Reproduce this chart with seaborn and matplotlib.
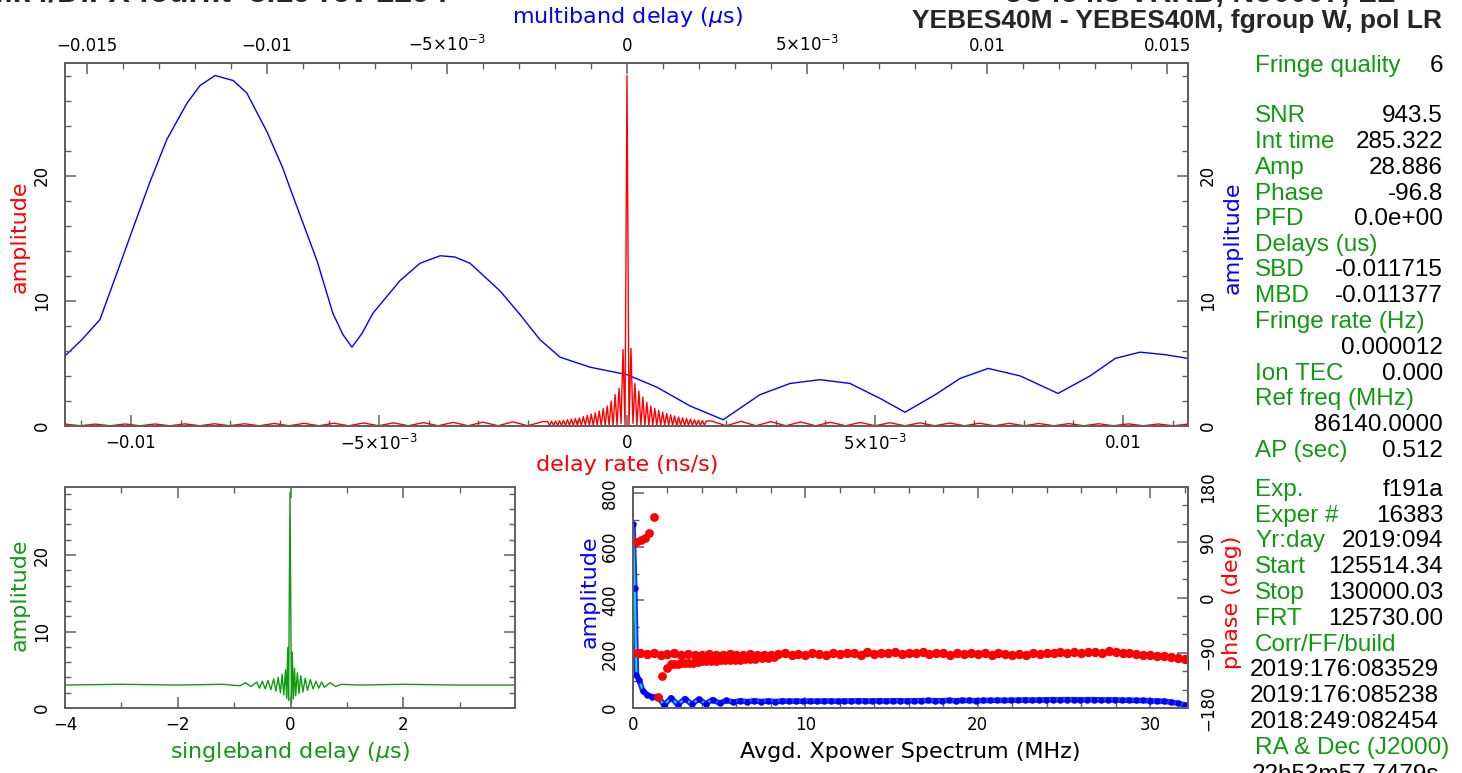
import numpy as np
import matplotlib
matplotlib.use('Agg')
import matplotlib.pyplot as plt
from matplotlib.ticker import MultipleLocator, FixedLocator, FixedFormatter
import seaborn as sns

# ---- values ----
# delay rate spectrum (red), x in 1e-3 ns/s
# outer wings (sampled between the edge and +-1.7) and the dense central part
rate_left_amp = [0.15, 0.02, 0.15, 0.02, 0.16, 0.02, 0.16, 0.02, 0.17, 0.02, 0.18,
                 0.02, 0.18, 0.02, 0.20, 0.02, 0.21, 0.02, 0.22, 0.02, 0.24, 0.02,
                 0.25, 0.02, 0.27, 0.02, 0.29, 0.02, 0.31, 0.02, 0.33, 0.02, 0.35]
rate_right_amp = [0.40, 0.02, 0.37, 0.02, 0.35, 0.02, 0.32, 0.02, 0.30, 0.02, 0.28,
                  0.02, 0.26, 0.02, 0.25, 0.02, 0.23, 0.02, 0.22, 0.02, 0.21, 0.02,
                  0.20, 0.02, 0.19, 0.02, 0.18, 0.02, 0.17, 0.02, 0.16, 0.02, 0.15]
rate_center_amp = [0.35, 0.05, 0.38, 0.05, 0.40, 0.05, 0.42, 0.05, 0.45, 0.05,
                   0.50, 0.05, 0.55, 0.05, 0.60, 0.05, 0.65, 0.05, 0.75, 0.05,
                   0.85, 0.05, 0.95, 0.05, 1.05, 0.05, 1.20, 0.05, 1.40, 0.05,
                   1.60, 0.05, 2.00, 0.05, 2.50, 0.05, 3.00, 0.20, 6.10, 0.10,
                   28.0,
                   0.10, 6.20, 0.20, 3.40, 0.05, 2.80, 0.05, 2.30, 0.05, 1.90,
                   0.05, 1.60, 0.05, 1.40, 0.05, 1.25, 0.05, 1.10, 0.05, 1.00,
                   0.05, 0.90, 0.05, 0.80, 0.05, 0.72, 0.05, 0.66, 0.05, 0.60,
                   0.05, 0.55, 0.05, 0.50, 0.05, 0.47, 0.05, 0.44, 0.05, 0.40]

# multiband delay amplitude (blue), x in 1e-3 us
mbd_x = [-15.61, -15.14, -14.64, -14.17, -13.72, -13.25, -12.78, -12.22, -11.86, -11.44, -10.94,
         -10.56, -10.00, -9.56, -9.36, -8.61, -8.17, -7.89, -7.64, -7.36, -7.06,
         -6.31, -5.75, -5.19, -4.78, -4.36, -3.53, -2.97, -2.42, -1.86, -1.03, 0.00,
         0.83, 1.75, 2.67, 3.69, 4.53, 5.36, 6.19, 7.03, 7.72, 8.56,
         9.25, 10.03, 10.92, 11.97, 12.86, 13.56, 14.25, 14.94, 15.58]
mbd_amp = [5.6, 6.9, 8.5, 12.2, 15.8, 19.5, 22.9, 25.8, 27.2, 28.0, 27.6,
           26.6, 23.5, 20.6, 19.0, 13.2, 9.0, 7.3, 6.3, 7.4, 9.0,
           11.6, 13.0, 13.6, 13.5, 13.0, 10.8, 8.9, 6.9, 5.5, 4.7, 4.1,
           3.1, 1.6, 0.5, 2.5, 3.4, 3.7, 3.4, 2.2, 1.1, 2.5,
           3.8, 4.6, 4.0, 2.6, 4.0, 5.4, 5.9, 5.7, 5.4]

# singleband delay amplitude (green), x in us
sbd_x = [-4.0, -3.0, -2.0, -1.2, -0.9, -0.8, -0.7, -0.6, -0.55, -0.5,
         -0.45, -0.4, -0.35, -0.3, -0.26, -0.22, -0.18, -0.15, -0.12, -0.09,
         -0.07, -0.05, -0.035, -0.01, 0.015, 0.03, 0.05, 0.07, 0.09, 0.12,
         0.15, 0.18, 0.22, 0.26, 0.3, 0.35, 0.4, 0.45, 0.5, 0.55,
         0.6, 0.7, 0.8, 0.9, 1.2, 2.0, 3.0, 3.98]
sbd_amp = [3.0, 3.1, 3.0, 3.1, 2.9, 3.3, 2.8, 3.4, 2.6, 3.5,
           2.5, 3.6, 2.4, 3.8, 2.2, 4.0, 2.0, 4.4, 1.7, 5.0,
           1.3, 7.9, 1.0, 28.2, 0.7, 7.3, 1.2, 5.2, 1.6, 4.6,
           1.9, 4.2, 2.1, 3.9, 2.3, 3.7, 2.5, 3.5, 2.6, 3.4,
           2.7, 3.3, 2.8, 3.1, 3.0, 3.1, 3.0, 3.0]

# averaged cross-power spectrum: first few channels, then the flat band
xp_lo_freq = [0.0, 0.1, 0.2, 0.35, 0.57, 0.83, 1.1, 1.5]
xp_lo_amp = [685, 445, 124, 104, 64, 49, 42, 40]
xp_amp = [10, 38, 12, 35, 14, 33, 16, 31, 18,
          28, 22, 27, 23, 27, 24, 26, 24, 26, 25, 26, 25,
          26, 25, 26, 26, 25, 26, 26, 27, 26, 26, 27, 26, 27, 27, 26, 27, 27, 28, 27, 27, 28, 27, 28, 28, 27,
          28, 28, 29, 28, 29, 29, 30, 29, 30, 30, 31, 30, 31, 31, 30, 31, 31, 30, 30, 30,
          29, 29, 28, 28, 27, 26, 25, 22, 18, 12]
xp_phase = [-90, -91, -92, -91, -93, -92, -91, -93, -92, -94,
            -93, -92, -94, -93, -92, -94, -93, -92, -93, -94,
            -93, -92, -91, -93, -92, -94, -91, -92, -93, -91,
            -92, -90, -91, -93, -89, -92, -90, -91, -89, -92,
            -90, -91, -89, -92, -90, -91, -93, -90, -92, -91,
            -92, -90, -93, -91, -92, -94, -92, -93, -91, -92,
            -90, -91, -89, -90, -88, -90, -89, -88, -90, -87,
            -89, -91, -90, -92, -93, -94, -95, -96, -97, -98, -100]
xp_ph2_freq = [0.17, 0.45, 0.69, 0.92, 1.19, 1.47, 1.7, 1.95, 2.18, 2.4, 2.6, 2.8,
               3.0, 3.25, 3.5, 3.75, 4.0, 4.25, 4.5, 4.8, 5.1, 5.35, 5.6, 5.9, 6.2,
               6.5, 6.8, 7.1, 7.5, 7.85, 8.2]
xp_ph2 = [90, 93, 97, 105, 131, -161.6, -128.6, -115, -108.5, -108, -108, -107.5,
          -107, -106.5, -106, -105, -104, -104, -104, -103, -102, -102, -101, -101, -101,
          -100.5, -100, -99.5, -99, -98.5, -97.7]

info_top = [('Fringe quality', '6', 66), ('SNR', '943.5', 116), ('Int time', '285.322', 142),
            ('Amp', '28.886', 168), ('Phase', '-96.8', 194), ('PFD', '0.0e+00', 219),
            ('Delays (us)', '', 245), ('SBD', '-0.011715', 270), ('MBD', '-0.011377', 296),
            ('Fringe rate (Hz)', '', 322), ('', '0.000012', 348), ('Ion TEC', '0.000', 374),
            ('Ref freq (MHz)', '', 399), ('', '86140.0000', 425), ('AP (sec)', '0.512', 451),
            ('Exp.', 'f191a', 490), ('Exper #', '16383', 516), ('Yr:day', '2019:094', 541),
            ('Start', '125514.34', 567), ('Stop', '130000.03', 593), ('FRT', '125730.00', 619),
            ('Corr/FF/build', '', 645), ('RA & Dec (J2000)', '', 748)]
build_dates = ['2019:176:083529', '2019:176:085238', '2018:249:082454']

# ---- figure ----
sns.set_theme(style='ticks')
plt.rcParams['font.family'] = ['DejaVu Sans']
plt.rcParams['axes.unicode_minus'] = True
plt.rcParams['mathtext.default'] = 'regular'

W, H = 1462, 773
fig = plt.figure(figsize=(W / 100, H / 100), dpi=100)
RED, BLUE, GREEN, CYAN = '#ff0000', '#0000ff', '#109a10', '#00e0f0'
FRAME = '#606060'
TICK_FS = 12
LAB_FS = 16
M5 = '\u22125\u00d710$^{\u22123}$'
P5 = '5\u00d710$^{\u22123}$'


def rect(x0, y0, x1, y1):
    return [x0 / W, 1 - y1 / H, (x1 - x0) / W, (y1 - y0) / H]


def style(ax):
    for s in ax.spines.values():
        s.set_color(FRAME)
        s.set_linewidth(1.4)
    ax.tick_params(which='both', direction='in', color=FRAME, labelsize=TICK_FS,
                   labelcolor='black', top=True, right=True)
    ax.tick_params(which='major', length=8, width=1.1)
    ax.tick_params(which='minor', length=4, width=1.0)
    ax.tick_params(axis='x', pad=6)
    ax.tick_params(axis='y', labelrotation=90, pad=10)
    for lab in ax.get_yticklabels():
        lab.set_va('center')


def label(xpx, ypx, text, color, rot=0):
    fig.text(xpx / W, 1 - ypx / H, text, color=color, fontsize=LAB_FS,
             ha='center', va='center', rotation=rot)


# top panel: delay rate (red) with multiband delay (blue) overlaid
ax_b = fig.add_axes(rect(65, 63, 1188, 426))
ax_r = fig.add_axes(rect(65, 63, 1188, 426))
ax_b.set_zorder(1)
ax_r.set_zorder(2)
ax_r.patch.set_visible(False)

rate_x = np.concatenate([np.linspace(-11.32, -1.70, len(rate_left_amp)),
                         np.linspace(-1.60, 1.60, len(rate_center_amp)),
                         np.linspace(1.70, 11.31, len(rate_right_amp))]) * 1e-3
rate_amp = rate_left_amp + rate_center_amp + rate_right_amp

sns.lineplot(x=np.array(mbd_x) * 1e-3, y=mbd_amp, ax=ax_b, color=BLUE, linewidth=1.0,
             estimator=None, sort=False)
sns.lineplot(x=rate_x, y=rate_amp, ax=ax_r, color=RED, linewidth=1.0,
             estimator=None, sort=False)

ax_r.set_xlim(-0.01133, 0.01131)
ax_r.set_ylim(0, 29.0)
ax_b.set_xlim(-0.01561, 0.01558)
ax_b.set_ylim(0, 29.0)

ax_r.xaxis.set_major_locator(FixedLocator([-0.01, -0.005, 0, 0.005, 0.01]))
ax_r.xaxis.set_major_formatter(FixedFormatter(['\u22120.01', M5, '0', P5, '0.01']))
ax_r.xaxis.set_minor_locator(MultipleLocator(0.001))
ax_r.yaxis.set_major_locator(MultipleLocator(10))
ax_r.yaxis.set_minor_locator(MultipleLocator(2))
style(ax_r)
ax_r.tick_params(top=False, right=False, which='both')

ax_b.xaxis.tick_top()
ax_b.yaxis.tick_right()
ax_b.xaxis.set_major_locator(FixedLocator([-0.015, -0.01, -0.005, 0, 0.005, 0.01, 0.015]))
ax_b.xaxis.set_major_formatter(FixedFormatter(['\u22120.015', '\u22120.01', M5, '0',
                                               P5, '0.01', '0.015']))
ax_b.xaxis.set_minor_locator(MultipleLocator(0.001))
ax_b.yaxis.set_major_locator(MultipleLocator(10))
ax_b.yaxis.set_minor_locator(MultipleLocator(2))
style(ax_b)
ax_b.tick_params(bottom=False, left=False, top=True, right=True, which='both',
                 labeltop=True, labelright=True, labelbottom=False, labelleft=False)
ax_b.tick_params(axis='y', pad=8)

label(627, 17, 'multiband delay ($\\mathit{\\mu}$s)', BLUE)
label(627, 465, 'delay rate (ns/s)', RED)
label(20, 237, 'amplitude', RED, 90)
label(1233, 238, 'amplitude', BLUE, 90)

# bottom left: singleband delay
ax_s = fig.add_axes(rect(65, 487, 515, 708))
sns.lineplot(x=sbd_x, y=sbd_amp, ax=ax_s, color=GREEN, linewidth=1.0,
             estimator=None, sort=False)
ax_s.set_xlim(-4, 3.98)
ax_s.set_ylim(0, 28.9)
ax_s.xaxis.set_major_locator(FixedLocator([-4, -2, 0, 2]))
ax_s.xaxis.set_minor_locator(MultipleLocator(1))
ax_s.yaxis.set_major_locator(MultipleLocator(10))
ax_s.yaxis.set_minor_locator(MultipleLocator(2))
style(ax_s)
label(290, 752, 'singleband delay ($\\mathit{\\mu}$s)', GREEN)
label(20, 595, 'amplitude', GREEN, 90)

# bottom right: averaged cross-power spectrum
ax_x = fig.add_axes(rect(633, 487, 1188, 708))
ax_p = ax_x.twinx()
xp_freq = np.linspace(1.8, 32.0, len(xp_amp))
amp_f = list(xp_lo_freq) + list(xp_freq)
amp_v = list(xp_lo_amp) + list(xp_amp)
sns.lineplot(x=amp_f, y=amp_v, ax=ax_x, color=BLUE, linewidth=4, alpha=0.85,
             estimator=None, sort=False)
sns.lineplot(x=amp_f, y=amp_v, ax=ax_x, color=CYAN, linewidth=1.4, estimator=None, sort=False)
sns.scatterplot(x=amp_f, y=amp_v, ax=ax_x, color=BLUE, s=22, linewidth=0, zorder=3)
ph_freq = np.linspace(0.0, 32.0, len(xp_phase))
sns.scatterplot(x=ph_freq, y=xp_phase, ax=ax_p, color=RED, s=45, linewidth=0)
sns.scatterplot(x=xp_ph2_freq, y=xp_ph2, ax=ax_p, color=RED, s=40, linewidth=0)
ax_x.set_xlim(0, 32.2)
ax_x.set_ylim(0, 822)
ax_p.set_ylim(-180, 180)
ax_x.xaxis.set_major_locator(MultipleLocator(10))
ax_x.xaxis.set_minor_locator(MultipleLocator(2))
ax_x.yaxis.set_major_locator(MultipleLocator(200))
ax_x.yaxis.set_minor_locator(MultipleLocator(100))
ax_p.yaxis.set_major_locator(MultipleLocator(90))
ax_p.yaxis.set_minor_locator(MultipleLocator(30))
style(ax_x)
ax_x.tick_params(right=False, which='both')
style(ax_p)
ax_p.tick_params(left=False, top=False, bottom=False, which='both', labelright=True)
ax_p.tick_params(axis='y', pad=8)
ax_p.set_ylabel('')
ax_x.set_ylabel('')
label(910, 752, 'Avgd. Xpower Spectrum (MHz)', 'black')
label(590, 592, 'amplitude', BLUE, 90)
label(1232, 602, 'phase (deg)', RED, 90)

# headers (top line partly cut by the page edge)
hfont = dict(family=['Liberation Sans', 'DejaVu Sans'], fontweight='bold', fontsize=19)
fig.text(-14 / W, 1 - (-7) / H, 'Mk4/DiFX fourfit  3.19 rev 2294', ha='left', va='center',
         family=['Liberation Sans', 'DejaVu Sans'], fontweight='bold', fontsize=23)
fig.text(1395 / W, 1 - (-6) / H, '3C454.3 VRKB, No0007, LL', ha='right', va='center',
         family=['Liberation Sans', 'DejaVu Sans'], fontweight='bold', fontsize=22)
fig.text(1442 / W, 1 - 21 / H, 'YEBES40M - YEBES40M, fgroup W, pol LR', ha='right', va='center', **hfont)

# parameter panel on the right
tfont = dict(family=['Liberation Sans', 'DejaVu Sans'], fontsize=17.5)
for lab, val, ypx in info_top:
    if lab:
        fig.text(1255 / W, 1 - ypx / H, lab, color=GREEN, ha='left', va='center', **tfont)
    if val:
        fig.text(1443 / W, 1 - ypx / H, val, color='black', ha='right', va='center', **tfont)
for i, d in enumerate(build_dates):
    fig.text(1250 / W, 1 - (670 + 26 * i) / H, d, color='black', ha='left', va='center', **tfont)
fig.text(1252 / W, 1 - 775 / H, '22h53m57.7479s', color='black', ha='left', va='center', **tfont)

fig.savefig('out.png', dpi=100)
